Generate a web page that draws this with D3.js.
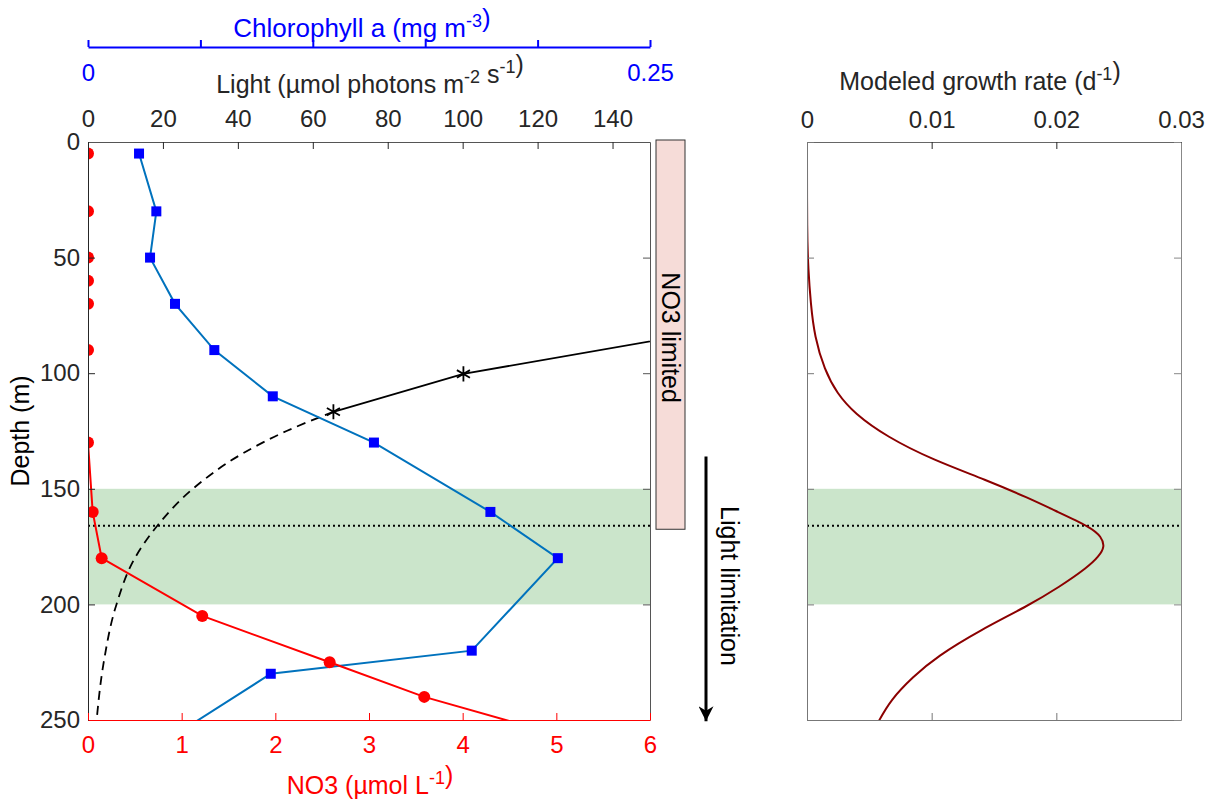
<!DOCTYPE html>
<html>
<head>
<meta charset="utf-8">
<script src="https://cdn.jsdelivr.net/npm/d3@7"></script>
<style>
  body { margin: 0; background: #fff; }
  text { font-family: "Liberation Sans", Arial, sans-serif; }
</style>
</head>
<body>
<div id="vis"></div>
<script>
const FRAME_WIDTH = 1214;
const FRAME_HEIGHT = 802;
const LEFT = {x0: 88, x1: 650, y0: 142, y1: 720};
const RIGHT = {x0: 807, x1: 1181};
const FONT = 24;
const TITLE_FONT = 25;

// data
const depthTicks = [0, 50, 100, 150, 200, 250];
const no3Ticks = [0, 1, 2, 3, 4, 5, 6];
const lightTicks = [0, 20, 40, 60, 80, 100, 120, 140];
const chlTicks = [0, 0.05, 0.1, 0.15, 0.2, 0.25];
const chlLabels = [0, 0.25];
const growthTicks = [0, 0.01, 0.02, 0.03];

const no3Depth = [5, 30, 50, 60, 70, 90, 130, 160, 180, 205, 225, 240, 270];
const no3Values = [0, 0, 0, 0, 0, 0, 0, 0.05, 0.146, 1.22, 2.58, 3.59, 6.2];

const chlDepth = [5, 30, 50, 70, 90, 110, 130, 160, 180, 220, 230, 260];
const chlValues = [0.0227, 0.0304, 0.0276, 0.0387, 0.0562, 0.0822, 0.1272, 0.179, 0.209, 0.1707, 0.0813, 0.033];

const lightDepth = [80, 100.3, 116.7];
const lightValues = [172, 100.2, 65.5];
const lightFitDepth = [116.7, 125, 135, 150, 166, 180, 200, 225, 250];
const lightFitValues = [65.5, 53, 41, 28, 18.5, 12.5, 7.6, 4.2, 2.3];

const growthDepth = [0, 40, 55, 70, 84, 98.6, 108.7, 117.4, 127.5, 137.5, 146.2, 154.1, 159.2, 166.7, 170.7, 175, 179.3, 184, 192.3, 201, 211.1, 222.6, 231.3, 241.3, 251, 255];
const growthValues = [0, 0, 0.0001, 0.0003, 0.0006, 0.0014, 0.0024, 0.0038, 0.0064, 0.0101, 0.0144, 0.0178, 0.0198, 0.0228, 0.0236, 0.0239, 0.0234, 0.0225, 0.0203, 0.0176, 0.0139, 0.0104, 0.0085, 0.0067, 0.0057, 0.0053];

const bandDepth = [150, 200];
const dcmDepth = 166;
const no3LimitedDepth = [0, 167.5];
const lightArrowDepth = [136, 250.5];

const svg = d3.select("#vis")
  .append("svg")
    .attr("width", FRAME_WIDTH)
    .attr("height", FRAME_HEIGHT);

// scales
const Y = d3.scaleLinear().domain([0, 250]).range([LEFT.y0, LEFT.y1]);
const X_NO3 = d3.scaleLinear().domain([0, 6]).range([LEFT.x0, LEFT.x1]);
const X_LIGHT = d3.scaleLinear().domain([0, 150]).range([LEFT.x0, LEFT.x1]);
const X_CHL = d3.scaleLinear().domain([0, 0.25]).range([LEFT.x0, LEFT.x1]);
const X_GROW = d3.scaleLinear().domain([0, 0.03]).range([RIGHT.x0, RIGHT.x1]);

const defs = svg.append("defs");
defs.append("clipPath").attr("id", "clipL")
  .append("rect")
    .attr("x", LEFT.x0).attr("y", LEFT.y0)
    .attr("width", LEFT.x1 - LEFT.x0).attr("height", LEFT.y1 - LEFT.y0);
defs.append("clipPath").attr("id", "clipR")
  .append("rect")
    .attr("x", RIGHT.x0).attr("y", LEFT.y0)
    .attr("width", RIGHT.x1 - RIGHT.x0).attr("height", LEFT.y1 - LEFT.y0);

// green band + dotted line in both panels
[X_NO3, X_GROW].forEach((xs) => {
  svg.append("rect")
    .attr("x", xs.range()[0])
    .attr("y", Y(bandDepth[0]))
    .attr("width", xs.range()[1] - xs.range()[0])
    .attr("height", Y(bandDepth[1]) - Y(bandDepth[0]))
    .attr("fill", "#cbe5cb");
  svg.append("line")
    .attr("x1", xs.range()[0]).attr("x2", xs.range()[1])
    .attr("y1", Y(dcmDepth)).attr("y2", Y(dcmDepth))
    .attr("stroke", "#000")
    .attr("stroke-width", 2)
    .attr("stroke-dasharray", "2,3");
});

const plotL = svg.append("g").attr("clip-path", "url(#clipL)");

// light fit (dashed)
plotL.append("path")
  .datum(d3.zip(lightFitDepth, lightFitValues))
  .attr("fill", "none")
  .attr("stroke", "#000")
  .attr("stroke-width", 1.8)
  .attr("stroke-dasharray", "9,6")
  .attr("d", d3.line().curve(d3.curveMonotoneY)
    .x(d => X_LIGHT(d[1])).y(d => Y(d[0])));

// light measured
plotL.append("path")
  .datum(d3.zip(lightDepth, lightValues))
  .attr("fill", "none")
  .attr("stroke", "#000")
  .attr("stroke-width", 1.8)
  .attr("d", d3.line().x(d => X_LIGHT(d[1])).y(d => Y(d[0])));
plotL.selectAll(".star")
  .data(d3.zip(lightDepth, lightValues))
  .enter()
  .append("path")
    .attr("transform", d => "translate(" + X_LIGHT(d[1]) + "," + Y(d[0]) + ")")
    .attr("d", d3.symbol(d3.symbolAsterisk, 160))
    .attr("fill", "none")
    .attr("stroke", "#000")
    .attr("stroke-width", 1.8);

// chlorophyll
plotL.append("path")
  .datum(d3.zip(chlDepth, chlValues))
  .attr("fill", "none")
  .attr("stroke", "#0072BD")
  .attr("stroke-width", 2)
  .attr("d", d3.line().x(d => X_CHL(d[1])).y(d => Y(d[0])));
plotL.selectAll(".sq")
  .data(d3.zip(chlDepth, chlValues))
  .enter()
  .append("rect")
    .attr("x", d => X_CHL(d[1]) - 5)
    .attr("y", d => Y(d[0]) - 5)
    .attr("width", 10).attr("height", 10)
    .attr("fill", "#0000ff");

// nitrate
plotL.append("path")
  .datum(d3.zip(no3Depth, no3Values))
  .attr("fill", "none")
  .attr("stroke", "#ff0000")
  .attr("stroke-width", 2)
  .attr("d", d3.line().x(d => X_NO3(d[1])).y(d => Y(d[0])));
plotL.selectAll(".dot")
  .data(d3.zip(no3Depth, no3Values))
  .enter()
  .append("circle")
    .attr("cx", d => X_NO3(d[1]))
    .attr("cy", d => Y(d[0]))
    .attr("r", 6)
    .attr("fill", "#ff0000");

// growth rate
svg.append("g").attr("clip-path", "url(#clipR)")
  .append("path")
    .datum(d3.zip(growthDepth, growthValues))
    .attr("fill", "none")
    .attr("stroke", "#8b0000")
    .attr("stroke-width", 2)
    .attr("d", d3.line().curve(d3.curveBasis)
      .x(d => X_GROW(d[1])).y(d => Y(d[0])));

// axes
function styleAxis(g, color) {
  g.attr("font-size", FONT + "px")
   .attr("font-family", "Liberation Sans, Arial, sans-serif");
  g.selectAll("path, line").attr("stroke", color);
  g.selectAll("text").attr("fill", color);
}
const fmt = d => String(+d.toFixed(4));

svg.append("g")
  .attr("transform", "translate(" + LEFT.x0 + ",0)")
  .call(d3.axisLeft(Y).tickValues(depthTicks).tickSizeInner(-7).tickSizeOuter(0).tickPadding(8))
  .call(g => styleAxis(g, "#262626"));
svg.append("g")
  .attr("transform", "translate(" + LEFT.x1 + ",0)")
  .call(d3.axisRight(Y).tickValues(depthTicks).tickSizeInner(-7).tickSizeOuter(0).tickFormat(""))
  .call(g => styleAxis(g, "#555"));
svg.append("g")
  .attr("transform", "translate(0," + LEFT.y0 + ")")
  .call(d3.axisTop(X_LIGHT).tickValues(lightTicks).tickSizeInner(-7).tickSizeOuter(0).tickPadding(15).tickFormat(fmt))
  .call(g => styleAxis(g, "#262626"))
  .call(g => g.select(".domain").attr("stroke", "#555"));
svg.append("g")
  .attr("transform", "translate(0," + LEFT.y1 + ")")
  .call(d3.axisBottom(X_NO3).tickValues(no3Ticks).tickSizeInner(-7).tickSizeOuter(0).tickPadding(16).tickFormat(fmt))
  .call(g => styleAxis(g, "#ff0000"));
svg.append("g")
  .attr("transform", "translate(0,47)")
  .call(d3.axisBottom(X_CHL).tickValues(chlTicks).tickSizeInner(-7).tickSizeOuter(0).tickPadding(17)
    .tickFormat(d => chlLabels.includes(d) ? fmt(d) : ""))
  .call(g => styleAxis(g, "#0000ff"))
  .call(g => g.selectAll("path, line").attr("stroke-width", 2));

// right panel axes
svg.append("g")
  .attr("transform", "translate(0," + LEFT.y0 + ")")
  .call(d3.axisTop(X_GROW).tickValues(growthTicks).tickSizeInner(-7).tickSizeOuter(0).tickPadding(14).tickFormat(fmt))
  .call(g => styleAxis(g, "#262626"))
  .call(g => g.select(".domain").attr("stroke", "#666"));
svg.append("g")
  .attr("transform", "translate(0," + LEFT.y1 + ")")
  .call(d3.axisBottom(X_GROW).tickValues(growthTicks).tickSizeInner(-7).tickSizeOuter(0).tickFormat(""))
  .call(g => styleAxis(g, "#777"));
svg.append("g")
  .attr("transform", "translate(" + RIGHT.x0 + ",0)")
  .call(d3.axisLeft(Y).tickValues(depthTicks).tickSizeInner(-7).tickSizeOuter(0).tickFormat(""))
  .call(g => styleAxis(g, "#777"));
svg.append("g")
  .attr("transform", "translate(" + RIGHT.x1 + ",0)")
  .call(d3.axisRight(Y).tickValues(depthTicks).tickSizeInner(-7).tickSizeOuter(0).tickFormat(""))
  .call(g => styleAxis(g, "#888"));

// titles with superscripts
function title(x, y, parts, color, rotate, size) {
  const t = svg.append("text")
    .attr("text-anchor", "middle")
    .attr("font-size", (size || TITLE_FONT) + "px")
    .attr("fill", color)
    .attr("transform", "translate(" + x + "," + y + ")" + (rotate ? " rotate(" + rotate + ")" : ""));
  parts.forEach(p => {
    if (p.sup) {
      t.append("tspan").attr("font-size", "18px").attr("dy", -10).text(p.sup);
      t.append("tspan").attr("dy", 10).text("");
    } else {
      t.append("tspan").text(p.t);
    }
  });
  return t;
}

title(362, 37, [{t: "Chlorophyll a (mg m"}, {sup: "-3"}, {t: ")"}], "#0000ff", 0, 26);
title(370, 93, [{t: "Light (µmol photons m"}, {sup: "-2"}, {t: " s"}, {sup: "-1"}, {t: ")"}], "#262626");
title(370, 794, [{t: "NO3 (µmol L"}, {sup: "-1"}, {t: ")"}], "#ff0000");
title(29, Y(125), [{t: "Depth (m)"}], "#000", -90);
title(980, 90, [{t: "Modeled growth rate (d"}, {sup: "-1"}, {t: ")"}], "#262626");

// NO3 limited box
svg.append("rect")
  .attr("x", 656).attr("y", Y(no3LimitedDepth[0]) - 2)
  .attr("width", 29)
  .attr("height", Y(no3LimitedDepth[1]) - Y(no3LimitedDepth[0]) + 2)
  .attr("fill", "#f6dcd8")
  .attr("stroke", "#333")
  .attr("stroke-width", 1);
title(662, (Y(no3LimitedDepth[0]) + Y(no3LimitedDepth[1])) / 2 + 2, [{t: "NO3 limited"}], "#000", 90);

// light limitation arrow
defs.append("marker")
  .attr("id", "arrow")
  .attr("viewBox", "0 0 10 10")
  .attr("refX", 10).attr("refY", 5)
  .attr("markerWidth", 5).attr("markerHeight", 5)
  .attr("markerUnits", "strokeWidth")
  .attr("orient", "auto")
  .append("path")
    .attr("d", "M0,0 L10,5 L0,10 L3,5 Z")
    .attr("fill", "#000");
svg.append("line")
  .attr("x1", 706).attr("x2", 706)
  .attr("y1", Y(lightArrowDepth[0])).attr("y2", Y(lightArrowDepth[1]))
  .attr("stroke", "#000")
  .attr("stroke-width", 3)
  .attr("marker-end", "url(#arrow)");
title(721, 586, [{t: "Light limitation"}], "#000", 90);
</script>
</body>
</html>
